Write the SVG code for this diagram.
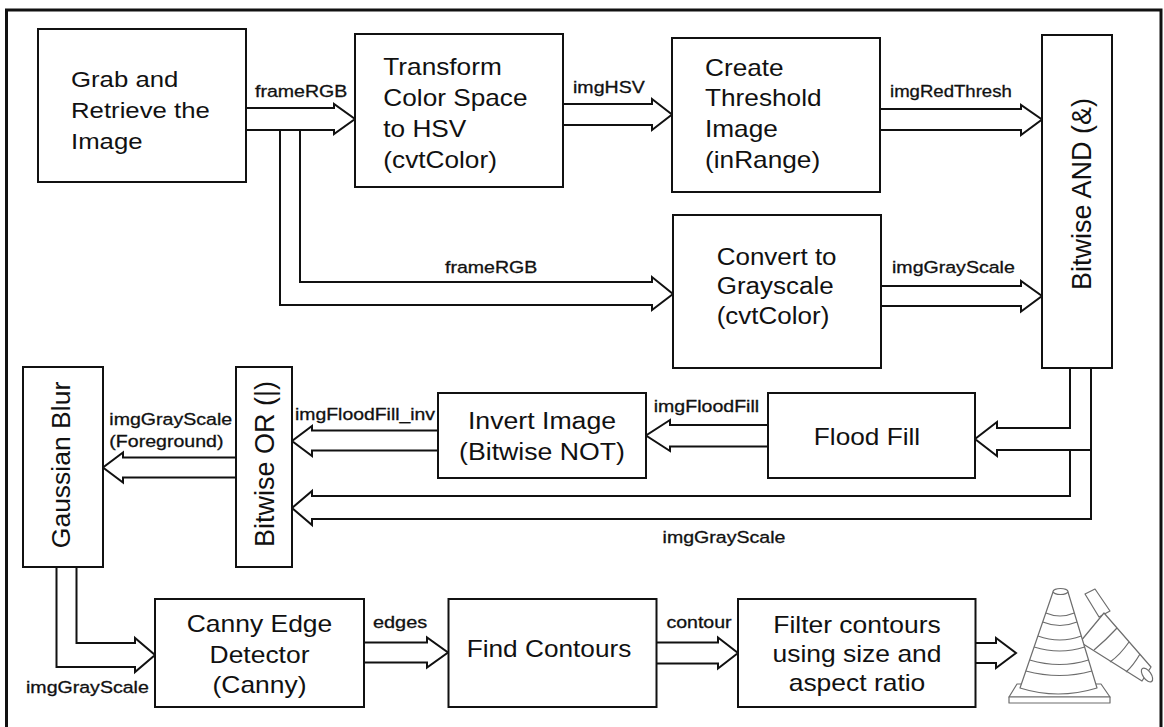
<svg xmlns="http://www.w3.org/2000/svg" width="1164" height="727" viewBox="0 0 1164 727">
  <style>
    .box { fill:#fff; stroke:#111; stroke-width:2; }
    .arr { fill:none; stroke:#111; stroke-width:2; stroke-linejoin:miter; }
    .t { font-family:"Liberation Sans", Arial, sans-serif; font-size:23px; fill:#111; }
    .c { text-anchor:middle; }
    .lbl { font-family:"Liberation Sans", Arial, sans-serif; font-size:16.3px; fill:#111; stroke:#111; stroke-width:0.3; }
    .rot { font-family:"Liberation Sans", Arial, sans-serif; font-size:27px; fill:#111; text-anchor:middle; }
    .cone { fill:#fff; stroke:#6d6d6d; stroke-width:1.2; stroke-linejoin:round; }
    .cl { fill:none; stroke:#6d6d6d; stroke-width:1.2; }
  </style>

  <rect width="1164" height="727" fill="#fff"/>
  <!-- outer frame -->
  <path d="M6.5,727 V10 H1161 V727" fill="none" stroke="#111" stroke-width="3"/>

  <!-- connectors -->
  <g id="connectors">
    <!-- frameRGB to colour transform -->
    <path class="arr" d="M246,108 H334 V104 L355,119 L334,134 V130 H246"/>
    <!-- frameRGB branch to grayscale -->
    <path class="arr" d="M280,131 V305 H652 V310 L673,294 L652,277 V282 H300 V131"/>
    <!-- imgHSV -->
    <path class="arr" d="M563,104 H652 V99 L672,114.5 L652,130 V125 H563"/>
    <!-- imgRedThresh -->
    <path class="arr" d="M880,109 H1021 V105 L1042,119.5 L1021,135 V130 H880"/>
    <!-- imgGrayScale into AND -->
    <path class="arr" d="M881,286 H1021 V281 L1042,296 L1021,311.5 V306 H881"/>
    <!-- AND output to flood fill -->
    <path class="arr" d="M1070,368 V428 H997 V422 L975,439 L997,456 V450 H1091"/>
    <!-- AND output (imgGrayScale) to OR -->
    <path class="arr" d="M1091,368 V519 H312 V525 L292,508 L312,491 V496 H1070 V450"/>
    <!-- imgFloodFill -->
    <path class="arr" d="M768,425 H670 V420 L646,435.5 L670,451 V446.5 H768"/>
    <!-- imgFloodFill_inv -->
    <path class="arr" d="M438,430.5 H312 V426 L292,441 L312,456 V450.5 H438"/>
    <!-- OR to Gaussian -->
    <path class="arr" d="M236,457.5 H123 V452.5 L103,467.5 L123,482.5 V477.5 H236"/>
    <!-- Gaussian to Canny -->
    <path class="arr" d="M76.5,567 V643 H135 V638 L155,655 L135,672 V667 H56.5 V567"/>
    <!-- edges -->
    <path class="arr" d="M364,642.5 H427 V637.5 L448,652.5 L427,667.5 V662.5 H364"/>
    <!-- contour -->
    <path class="arr" d="M656,642.5 H718 V637.5 L738,653 L718,668.5 V663.5 H656"/>
    <!-- result -->
    <path class="arr" d="M975.5,643 H996 V638 L1016,653 L996,668 V663 H975.5"/>
  </g>

  <!-- connector labels -->
  <g id="labels">
    <text class="lbl" transform="translate(255 96.7) scale(1.2 1)">frameRGB</text>
    <text class="lbl" transform="translate(445 272.7) scale(1.2 1)">frameRGB</text>
    <text class="lbl" transform="translate(573 93) scale(1.2 1)">imgHSV</text>
    <text class="lbl" transform="translate(890 96.5) scale(1.14 1)">imgRedThresh</text>
    <text class="lbl" transform="translate(892 273) scale(1.2 1)">imgGrayScale</text>
    <text class="lbl" transform="translate(653.7 411.7) scale(1.2 1)">imgFloodFill</text>
    <text class="lbl" transform="translate(295 420) scale(1.19 1)">imgFloodFill_inv</text>
    <text class="lbl" transform="translate(109.3 425) scale(1.2 1)">imgGrayScale</text>
    <text class="lbl" transform="translate(109.3 447.3) scale(1.2 1)">(Foreground)</text>
    <text class="lbl" transform="translate(662.6 543) scale(1.2 1)">imgGrayScale</text>
    <text class="lbl" transform="translate(26 693.3) scale(1.2 1)">imgGrayScale</text>
    <text class="lbl" transform="translate(373 628.3) scale(1.22 1)">edges</text>
    <text class="lbl" transform="translate(666.4 628.3) scale(1.2 1)">contour</text>
  </g>

  <!-- nodes -->
  <g id="grab">
    <rect class="box" x="38" y="29" width="208" height="153"/>
    <text class="t" transform="translate(71 87) scale(1.12 1)"><tspan x="0" y="0">Grab and</tspan><tspan x="0" y="31">Retrieve the</tspan><tspan x="0" y="62">Image</tspan></text>
  </g>
  <g id="to-hsv">
    <rect class="box" x="355" y="34" width="208" height="153"/>
    <text class="t" transform="translate(383.3 75) scale(1.14 1)"><tspan x="0" y="0">Transform</tspan><tspan x="0" y="31">Color Space</tspan><tspan x="0" y="62">to HSV</tspan><tspan x="0" y="93">(cvtColor)</tspan></text>
  </g>
  <g id="threshold">
    <rect class="box" x="672" y="38" width="208" height="154"/>
    <text class="t" transform="translate(705 75.5) scale(1.14 1)"><tspan x="0" y="0">Create</tspan><tspan x="0" y="31">Threshold</tspan><tspan x="0" y="62">Image</tspan><tspan x="0" y="93">(inRange)</tspan></text>
  </g>
  <g id="grayscale">
    <rect class="box" x="673" y="215" width="208" height="153"/>
    <text class="t" transform="translate(716.7 265) scale(1.13 1)"><tspan x="0" y="0">Convert to</tspan><tspan x="0" y="29.5">Grayscale</tspan><tspan x="0" y="59">(cvtColor)</tspan></text>
  </g>
  <g id="bitwise-and">
    <rect class="box" x="1042" y="35" width="70" height="333"/>
    <text class="rot" transform="translate(1091 194) rotate(-90)">Bitwise AND (&amp;)</text>
  </g>
  <g id="flood-fill">
    <rect class="box" x="768" y="393" width="207" height="85"/>
    <text class="t c" transform="translate(867 445) scale(1.14 1)">Flood Fill</text>
  </g>
  <g id="invert">
    <rect class="box" x="438" y="393" width="208" height="85"/>
    <text class="t c" transform="translate(542 428.5) scale(1.16 1)"><tspan x="0" y="0">Invert Image</tspan><tspan x="0" y="31.5">(Bitwise NOT)</tspan></text>
  </g>
  <g id="bitwise-or">
    <rect class="box" x="236" y="367" width="56" height="200"/>
    <text class="rot" transform="translate(274 464) rotate(-90)">Bitwise OR (|)</text>
  </g>
  <g id="gaussian">
    <rect class="box" x="23" y="367" width="80" height="200"/>
    <text class="rot" transform="translate(70 465) rotate(-90)" style="font-size:26.5px">Gaussian Blur</text>
  </g>
  <g id="canny">
    <rect class="box" x="155" y="599" width="209" height="108"/>
    <text class="t c" transform="translate(259.5 631.7) scale(1.15 1)"><tspan x="0" y="0">Canny Edge</tspan><tspan x="0" y="31">Detector</tspan><tspan x="0" y="61.6">(Canny)</tspan></text>
  </g>
  <g id="find-contours">
    <rect class="box" x="448.5" y="599" width="208" height="108"/>
    <text class="t c" transform="translate(549 656.7) scale(1.14 1)">Find Contours</text>
  </g>
  <g id="filter">
    <rect class="box" x="738" y="599" width="237.5" height="108"/>
    <text class="t c" transform="translate(857 632.5) scale(1.15 1)"><tspan x="0" y="0">Filter contours</tspan><tspan x="0" y="29.5">using size and</tspan><tspan x="0" y="59">aspect ratio</tspan></text>
  </g>

  <!-- traffic cones -->
  <g id="cones">
    <!-- cone tipped over, behind -->
    <path class="cone" d="M1085,594 L1095,589 L1110,611 L1099,617 Z"/>
    <path class="cone" d="M1104,613 L1151,667 L1142,681 L1080,642 Z"/>
    <ellipse class="cone" cx="1147" cy="675" rx="4" ry="8" transform="rotate(-35 1147 675)"/>
    <path class="cl" d="M1117,628 Q1106,640 1094,650"/>
    <path class="cl" d="M1129,642 Q1120,655 1110,662"/>
    <path class="cl" d="M1140,654 Q1133,666 1126,672"/>
    <!-- upright cone -->
    <path class="cone" d="M1017,684 L1101,684 L1110,697 L1009,697 Z"/>
    <path class="cone" d="M1009,697 L1110,697 L1110,703 L1009,703 Z"/>
    <path class="cone" d="M1053,592 L1020,688 Q1058,700 1097,688 L1068,592 Z"/>
    <ellipse class="cone" cx="1060.5" cy="591.5" rx="7.5" ry="3"/>
    <path class="cl" d="M1045.8,613 Q1060,619 1074.3,613"/>
    <path class="cl" d="M1042.7,622 Q1060,629 1077,622"/>
    <path class="cl" d="M1037.9,636 Q1060,644 1081.3,636"/>
    <path class="cl" d="M1034.1,647 Q1060,655 1084.6,647"/>
    <path class="cl" d="M1029.6,660 Q1060,669 1088.5,660"/>
    <path class="cl" d="M1025.8,671 Q1060,680 1091.9,671"/>
  </g>
</svg>
